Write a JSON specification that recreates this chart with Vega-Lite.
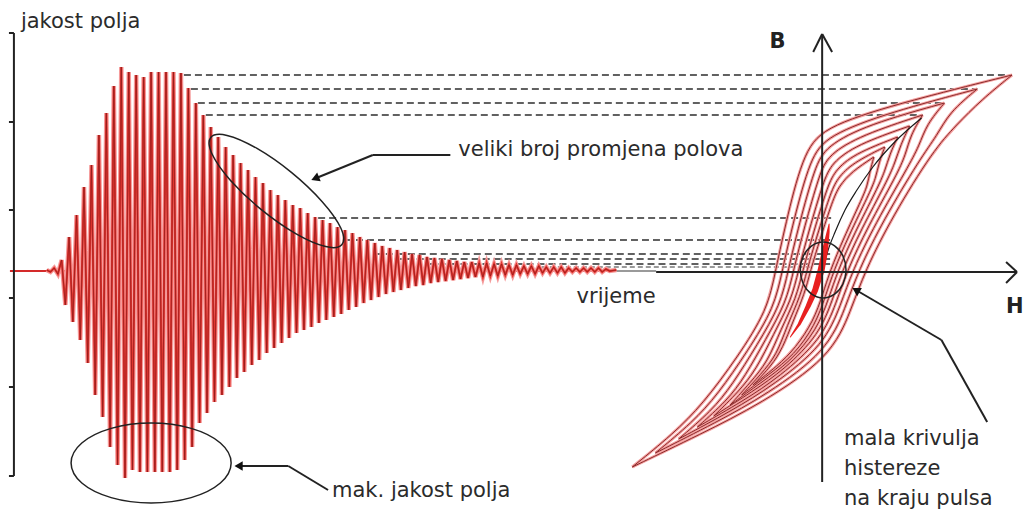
{
"$schema":"https://vega.github.io/schema/vega-lite/v6.json",
"width":1024,"height":513,
"autosize":{"type":"fit","contains":"padding"},
"padding":0,
"background":"white",
"config":{"view":{"stroke":null}},
"datasets":{
"sig":[
{"x":47,"y":270},{"x":50.75,"y":272},{"x":54.5,"y":268},{"x":58.25,"y":274},
{"x":62,"y":260},{"x":65.75,"y":305},{"x":69.5,"y":237},{"x":73.25,"y":322},
{"x":77,"y":215},{"x":80.75,"y":340},{"x":84.5,"y":187},{"x":88.25,"y":363},
{"x":92,"y":165},{"x":95.75,"y":395},{"x":99.5,"y":135},{"x":103.25,"y":417},
{"x":107,"y":113},{"x":110.75,"y":447},{"x":114.5,"y":86},{"x":118.25,"y":465},
{"x":122,"y":67},{"x":125.75,"y":478},{"x":129.5,"y":72},{"x":133.25,"y":470},
{"x":137,"y":75},{"x":140.75,"y":472},{"x":144.5,"y":77},{"x":148.25,"y":472},
{"x":152,"y":72},{"x":155.75,"y":472},{"x":159.5,"y":72},{"x":163.25,"y":472},
{"x":167,"y":72},{"x":170.75,"y":472},{"x":174.5,"y":72},{"x":178.25,"y":470},
{"x":182,"y":73},{"x":185.75,"y":460},{"x":189.5,"y":88},{"x":193.25,"y":447},
{"x":197,"y":103},{"x":200.75,"y":423},{"x":204.5,"y":115},{"x":208.25,"y":413},
{"x":212,"y":127},{"x":215.75,"y":402},{"x":219.5,"y":137},{"x":223.25,"y":395},
{"x":227,"y":147},{"x":230.75,"y":387},{"x":234.5,"y":155},{"x":238.25,"y":378},
{"x":242,"y":163},{"x":245.75,"y":372},{"x":249.5,"y":170},{"x":253.25,"y":365},
{"x":257,"y":177},{"x":260.75,"y":360},{"x":264.5,"y":183},{"x":268.25,"y":353},
{"x":272,"y":190},{"x":275.75,"y":348},{"x":279.5,"y":195},{"x":283.25,"y":343},
{"x":287,"y":200},{"x":290.75,"y":338},{"x":294.5,"y":205},{"x":298.25,"y":333},
{"x":302,"y":208},{"x":305.75,"y":330},{"x":309.5,"y":213},{"x":313.25,"y":327},
{"x":317,"y":217},{"x":320.75,"y":323},{"x":324.5,"y":220},{"x":328.25,"y":320},
{"x":332,"y":223},{"x":335.75,"y":317},{"x":339.5,"y":227},{"x":343.25,"y":314},
{"x":347,"y":230},{"x":350.75,"y":310},{"x":354.5,"y":233},{"x":358.25,"y":307},
{"x":362,"y":237},{"x":365.75,"y":303},{"x":369.5,"y":240},{"x":373.25,"y":300},
{"x":377,"y":243},{"x":380.75,"y":297},{"x":384.5,"y":246},{"x":388.25,"y":294},
{"x":392,"y":248},{"x":395.75,"y":292},{"x":399.5,"y":250},{"x":403.25,"y":290},
{"x":407,"y":252},{"x":410.75,"y":288},{"x":414.5,"y":254},{"x":418.25,"y":286},
{"x":422,"y":255},{"x":425.75,"y":285},{"x":429.5,"y":257},{"x":433.25,"y":283},
{"x":437,"y":258},{"x":440.75,"y":282},{"x":444.5,"y":259},{"x":448.25,"y":281},
{"x":452,"y":260},{"x":455.75,"y":280},{"x":459.5,"y":261},{"x":463.25,"y":279},
{"x":467,"y":262},{"x":470.75,"y":278},{"x":474.5,"y":262},{"x":478.25,"y":277},
{"x":482,"y":263},{"x":485.75,"y":277},{"x":489.5,"y":263},{"x":493.25,"y":276},
{"x":497,"y":264},{"x":500.75,"y":276},{"x":504.5,"y":264},{"x":508.25,"y":275},
{"x":512,"y":265},{"x":515.75,"y":275},{"x":519.5,"y":265},{"x":523.25,"y":274},
{"x":527,"y":266},{"x":530.75,"y":274},{"x":534.5,"y":266},{"x":538.25,"y":274},
{"x":542,"y":266},{"x":545.75,"y":273},{"x":549.5,"y":267},{"x":553.25,"y":273},
{"x":557,"y":267},{"x":560.75,"y":273},{"x":564.5,"y":267},{"x":568.25,"y":273},
{"x":572,"y":268},{"x":575.75,"y":272},{"x":579.5,"y":268},{"x":583.25,"y":272},
{"x":587,"y":268},{"x":590.75,"y":272},{"x":594.5,"y":268},{"x":598.25,"y":272},
{"x":602,"y":268},{"x":605.75,"y":272},{"x":609.5,"y":269},{"x":613.25,"y":271},
{"x":620,"y":270}
],
"loops":[
{"id":"1u","x":1018,"y":75},{"id":"1u","x":917,"y":100},{"id":"1u","x":832,"y":125},{"id":"1u","x":809,"y":150},{"id":"1u","x":792,"y":216},{"id":"1u","x":780,"y":271},{"id":"1u","x":772,"y":310},{"id":"1u","x":742,"y":357},{"id":"1u","x":707,"y":404},{"id":"1u","x":677,"y":434},{"id":"1u","x":636,"y":467},
{"id":"1l","x":636,"y":467},{"id":"1l","x":705,"y":434},{"id":"1l","x":765,"y":404},{"id":"1l","x":836,"y":357},{"id":"1l","x":856,"y":310},{"id":"1l","x":870,"y":271},{"id":"1l","x":898,"y":216},{"id":"1l","x":939,"y":150},{"id":"1l","x":962,"y":125},{"id":"1l","x":987,"y":100},{"id":"1l","x":1018,"y":75},
{"id":"2u","x":983,"y":89},{"id":"2u","x":895.4,"y":112.2},{"id":"2u","x":832.1,"y":135.4},{"id":"2u","x":814.9,"y":158.6},{"id":"2u","x":798.5,"y":219.9},{"id":"2u","x":786.7,"y":271},{"id":"2u","x":779.1,"y":307.2},{"id":"2u","x":752.2,"y":350.9},{"id":"2u","x":722,"y":394.5},{"id":"2u","x":696.5,"y":422.4},{"id":"2u","x":659.3,"y":453},
{"id":"2l","x":659.3,"y":453},{"id":"2l","x":720.3,"y":422.4},{"id":"2l","x":771.4,"y":394.5},{"id":"2l","x":832.2,"y":350.9},{"id":"2l","x":850.5,"y":307.2},{"id":"2l","x":863.3,"y":271},{"id":"2l","x":888.7,"y":219.9},{"id":"2l","x":925.5,"y":158.6},{"id":"2l","x":942.7,"y":135.4},{"id":"2l","x":955,"y":112.2},{"id":"2l","x":983,"y":89},
{"id":"3u","x":950,"y":103},{"id":"3u","x":873.1,"y":124.4},{"id":"3u","x":831,"y":145.9},{"id":"3u","x":819.6,"y":167.3},{"id":"3u","x":803.9,"y":223.9},{"id":"3u","x":792.6,"y":271},{"id":"3u","x":785.4,"y":304.4},{"id":"3u","x":761.7,"y":344.7},{"id":"3u","x":736.5,"y":385},{"id":"3u","x":715.9,"y":410.7},{"id":"3u","x":682.7,"y":439},
{"id":"3l","x":682.7,"y":439},{"id":"3l","x":736.1,"y":410.7},{"id":"3l","x":778.3,"y":385},{"id":"3l","x":829.3,"y":344.7},{"id":"3l","x":845.8,"y":304.4},{"id":"3l","x":857.4,"y":271},{"id":"3l","x":880.3,"y":223.9},{"id":"3l","x":913.2,"y":167.3},{"id":"3l","x":924.6,"y":145.9},{"id":"3l","x":932,"y":124.4},{"id":"3l","x":950,"y":103},
{"id":"4u","x":928,"y":115},{"id":"4u","x":866.9,"y":134.9},{"id":"4u","x":832.9,"y":154.8},{"id":"4u","x":824.2,"y":174.7},{"id":"4u","x":809.1,"y":227.2},{"id":"4u","x":798,"y":271},{"id":"4u","x":791,"y":302.1},{"id":"4u","x":770.1,"y":339.5},{"id":"4u","x":749.2,"y":376.9},{"id":"4u","x":731.3,"y":400.7},{"id":"4u","x":701.5,"y":427},
{"id":"4l","x":701.5,"y":427},{"id":"4l","x":748.1,"y":400.7},{"id":"4l","x":784,"y":376.9},{"id":"4l","x":826.5,"y":339.5},{"id":"4l","x":841.4,"y":302.1},{"id":"4l","x":852,"y":271},{"id":"4l","x":872.7,"y":227.2},{"id":"4l","x":902.2,"y":174.7},{"id":"4l","x":910.9,"y":154.8},{"id":"4l","x":916,"y":134.9},{"id":"4l","x":928,"y":115},
{"id":"5u","x":915,"y":126},{"id":"5u","x":861.9,"y":144.5},{"id":"5u","x":836.4,"y":163},{"id":"5u","x":828.3,"y":181.5},{"id":"5u","x":813.8,"y":230.3},{"id":"5u","x":802.9,"y":271},{"id":"5u","x":796.2,"y":299.9},{"id":"5u","x":777.9,"y":334.6},{"id":"5u","x":760.8,"y":369.4},{"id":"5u","x":743.1,"y":391.6},{"id":"5u","x":718,"y":416},
{"id":"5l","x":718,"y":416},{"id":"5l","x":756.9,"y":391.6},{"id":"5l","x":789.2,"y":369.4},{"id":"5l","x":823.9,"y":334.6},{"id":"5l","x":837.4,"y":299.9},{"id":"5l","x":847.1,"y":271},{"id":"5l","x":865.8,"y":230.3},{"id":"5l","x":892.1,"y":181.5},{"id":"5l","x":900.2,"y":163},{"id":"5l","x":906,"y":144.5},{"id":"5l","x":915,"y":126},
{"id":"6u","x":903,"y":137},{"id":"6u","x":858.5,"y":154.1},{"id":"6u","x":839.3,"y":171.2},{"id":"6u","x":831.8,"y":188.3},{"id":"6u","x":818,"y":233.4},{"id":"6u","x":807.4,"y":271},{"id":"6u","x":801.1,"y":297.7},{"id":"6u","x":785.2,"y":329.8},{"id":"6u","x":772.2,"y":361.9},{"id":"6u","x":754.8,"y":382.4},{"id":"6u","x":734.5,"y":405},
{"id":"6l","x":734.5,"y":405},{"id":"6l","x":765.8,"y":382.4},{"id":"6l","x":794.8,"y":361.9},{"id":"6l","x":821.8,"y":329.8},{"id":"6l","x":833.9,"y":297.7},{"id":"6l","x":842.6,"y":271},{"id":"6l","x":859.4,"y":233.4},{"id":"6l","x":882.6,"y":188.3},{"id":"6l","x":890.1,"y":171.2},{"id":"6l","x":895,"y":154.1},{"id":"6l","x":903,"y":137},
{"id":"7u","x":890,"y":147},{"id":"7u","x":857.9,"y":162.8},{"id":"7u","x":841.9,"y":178.6},{"id":"7u","x":835,"y":194.4},{"id":"7u","x":821.7,"y":236.2},{"id":"7u","x":811.5,"y":271},{"id":"7u","x":805.4,"y":295.7},{"id":"7u","x":791.7,"y":325.4},{"id":"7u","x":781.3,"y":355.1},{"id":"7u","x":765.5,"y":374.1},{"id":"7u","x":746.1,"y":395},
{"id":"7l","x":746.1,"y":395},{"id":"7l","x":773.9,"y":374.1},{"id":"7l","x":798.7,"y":355.1},{"id":"7l","x":819.9,"y":325.4},{"id":"7l","x":830.6,"y":295.7},{"id":"7l","x":838.5,"y":271},{"id":"7l","x":853.5,"y":236.2},{"id":"7l","x":874,"y":194.4},{"id":"7l","x":880.9,"y":178.6},{"id":"7l","x":884,"y":162.8},{"id":"7l","x":890,"y":147},
{"id":"8u","x":879,"y":157},{"id":"8u","x":856.9,"y":171.5},{"id":"8u","x":843.9,"y":186.1},{"id":"8u","x":837.5,"y":200.6},{"id":"8u","x":824.9,"y":239},{"id":"8u","x":815.1,"y":271},{"id":"8u","x":809.4,"y":293.7},{"id":"8u","x":797.8,"y":321},{"id":"8u","x":787.2,"y":348.3},{"id":"8u","x":776,"y":365.8},{"id":"8u","x":757.4,"y":385},
{"id":"8l","x":757.4,"y":385},{"id":"8l","x":782.2,"y":365.8},{"id":"8l","x":800,"y":348.3},{"id":"8l","x":818.4,"y":321},{"id":"8l","x":827.8,"y":293.7},{"id":"8l","x":834.9,"y":271},{"id":"8l","x":848.3,"y":239},{"id":"8l","x":866.1,"y":200.6},{"id":"8l","x":872.5,"y":186.1},{"id":"8l","x":875,"y":171.5},{"id":"8l","x":879,"y":157}
],
"dash":[
{"x":185,"x2":1018,"y":75},{"x":192,"x2":983,"y":89},{"x":199,"x2":950,"y":103},{"x":207,"x2":928,"y":115},
{"x":320,"x2":838,"y":218},{"x":347,"x2":835,"y":240},{"x":377,"x2":835,"y":254},{"x":397,"x2":835,"y":259},{"x":430,"x2":835,"y":264}
],
"segs":[
{"x":14,"x2":14,"y":33,"y2":476},
{"x":9,"x2":14,"y":33,"y2":33},{"x":9,"x2":14,"y":122,"y2":122},{"x":9,"x2":14,"y":210,"y2":210},{"x":9,"x2":14,"y":298,"y2":298},{"x":9,"x2":14,"y":387,"y2":387},{"x":9,"x2":14,"y":476,"y2":476},
{"x":827,"x2":827,"y":34,"y2":482},
{"x":818,"x2":827,"y":52,"y2":34},{"x":827,"x2":837,"y":34,"y2":52},
{"x":660,"x2":1023,"y":272,"y2":272},
{"x":1012,"x2":1023,"y":262,"y2":272},{"x":1012,"x2":1023,"y":283,"y2":272},
{"x":453,"x2":375,"y":155,"y2":155},{"x":375,"x2":317,"y":155,"y2":178.5},
{"x":330,"x2":290,"y":490,"y2":466},{"x":290,"x2":240,"y":466,"y2":466},
{"x":993,"x2":947,"y":422,"y2":340},{"x":947,"x2":861,"y":340,"y2":290}
],
"tticks":[
{"x":50},{"x":85},{"x":121},{"x":156},{"x":191},{"x":226},{"x":262},{"x":297},{"x":332},{"x":367},{"x":403},{"x":438},{"x":473},{"x":509},{"x":544},{"x":579},{"x":614}
],
"ell":[
{"id":"e1","o":0,"x":344,"y":244.5},{"id":"e1","o":1,"x":327.6,"y":246.6},{"id":"e1","o":2,"x":297.9,"y":233.9},{"id":"e1","o":3,"x":262.9,"y":209.6},{"id":"e1","o":4,"x":231.9,"y":180.4},{"id":"e1","o":5,"x":213.3,"y":154},{"id":"e1","o":6,"x":212,"y":137.5},{"id":"e1","o":7,"x":228.4,"y":135.4},{"id":"e1","o":8,"x":258.1,"y":148.2},{"id":"e1","o":9,"x":293.1,"y":172.4},{"id":"e1","o":10,"x":324.1,"y":201.7},{"id":"e1","o":11,"x":342.8,"y":228},
{"id":"e2","o":0,"x":232.5,"y":463},{"id":"e2","o":1,"x":221.7,"y":483},{"id":"e2","o":2,"x":192.3,"y":497.6},{"id":"e2","o":3,"x":152,"y":503},{"id":"e2","o":4,"x":111.8,"y":497.6},{"id":"e2","o":5,"x":82.3,"y":483},{"id":"e2","o":6,"x":71.5,"y":463},{"id":"e2","o":7,"x":82.3,"y":443},{"id":"e2","o":8,"x":111.8,"y":428.4},{"id":"e2","o":9,"x":152,"y":423},{"id":"e2","o":10,"x":192.3,"y":428.4},{"id":"e2","o":11,"x":221.7,"y":443},
{"id":"e3","o":0,"x":851,"y":270},{"id":"e3","o":1,"x":847.9,"y":284},{"id":"e3","o":2,"x":839.5,"y":294.2},{"id":"e3","o":3,"x":828,"y":298},{"id":"e3","o":4,"x":816.5,"y":294.2},{"id":"e3","o":5,"x":808.1,"y":284},{"id":"e3","o":6,"x":805,"y":270},{"id":"e3","o":7,"x":808.1,"y":256},{"id":"e3","o":8,"x":816.5,"y":245.8},{"id":"e3","o":9,"x":828,"y":242},{"id":"e3","o":10,"x":839.5,"y":245.8},{"id":"e3","o":11,"x":847.9,"y":256}
],
"mag":[
{"x":827,"y":271},{"x":833,"y":250},{"x":840,"y":232},{"x":850,"y":210},{"x":862,"y":190},{"x":878,"y":167},{"x":900,"y":142},{"x":927,"y":118}
],
"small":[
{"x":795,"y":337,"w":1},{"x":804,"y":324,"w":3},{"x":813,"y":306,"w":5},{"x":820,"y":290,"w":6},{"x":826,"y":270,"w":7},{"x":830,"y":250,"w":6},{"x":833,"y":232,"w":3},{"x":834,"y":224,"w":1}
],
"txt":[
{"t":"jakost polja","x":21,"y":28},
{"t":"veliki broj promjena polova","x":461,"y":156},
{"t":"vrijeme","x":580,"y":303},
{"t":"mak. jakost polja","x":334,"y":497},
{"t":"mala krivulja","x":849,"y":445},
{"t":"histereze","x":849,"y":475},
{"t":"na kraju pulsa","x":849,"y":505}
],
"btxt":[
{"t":"B","x":774,"y":48},
{"t":"H","x":1012,"y":313}
]
},
"encoding":{
"x":{"field":"x","type":"quantitative","scale":{"domain":[0,1024],"nice":false,"zero":false},"axis":null},
"y":{"field":"y","type":"quantitative","scale":{"domain":[0,513],"reverse":true,"nice":false,"zero":false},"axis":null}
},
"layer":[
{"data":{"name":"dash"},"mark":{"type":"rule","strokeDash":[7,4],"color":"#2e2e2e","strokeWidth":1.6},"encoding":{"x2":{"field":"x2"}}},
{"data":{"values":[{"x":545,"x2":815,"y":267}]},"mark":{"type":"rule","strokeDash":[5,3],"color":"#9a9a9a","strokeWidth":2},"encoding":{"x2":{"field":"x2"}}},
{"data":{"values":[{"x":10,"x2":620,"y":271}]},"mark":{"type":"rule","color":"#d42a2a","strokeWidth":2},"encoding":{"x2":{"field":"x2"}}},
{"data":{"values":[{"x":620,"x2":660,"y":271}]},"mark":{"type":"rule","color":"#9a9a9a","strokeWidth":2},"encoding":{"x2":{"field":"x2"}}},
{"data":{"name":"sig"},"mark":{"type":"line","color":"#f59a9a","strokeWidth":4.5},"encoding":{}},
{"data":{"name":"sig"},"mark":{"type":"line","color":"#e2352f","strokeWidth":2.2},"encoding":{}},
{"data":{"name":"sig"},"mark":{"type":"line","color":"#8e1a1a","strokeWidth":0.7},"encoding":{}},
{"data":{"name":"tticks"},"mark":{"type":"rule","color":"#333333","strokeWidth":1.2},"encoding":{"y":{"datum":272},"y2":{"datum":277}}},
{"data":{"name":"loops"},"mark":{"type":"line","interpolate":"basis","color":"#f4a0a0","strokeWidth":3},"encoding":{"detail":{"field":"id"}}},
{"data":{"name":"loops"},"mark":{"type":"line","interpolate":"basis","color":"#8a2a2a","strokeWidth":1},"encoding":{"detail":{"field":"id"}}},
{"data":{"name":"mag"},"mark":{"type":"line","interpolate":"monotone","color":"#1a1a1a","strokeWidth":1.2},"encoding":{}},
{"data":{"name":"small"},"mark":{"type":"trail","color":"#e82020"},"encoding":{"size":{"field":"w","type":"quantitative","scale":{"domain":[0,10],"range":[0,10]},"legend":null}}},
{"data":{"name":"segs"},"mark":{"type":"rule","color":"#222222","strokeWidth":2},"encoding":{"x2":{"field":"x2"},"y2":{"field":"y2"}}},
{"data":{"name":"ell"},"mark":{"type":"line","interpolate":"cardinal-closed","color":"#222222","strokeWidth":1.5},"encoding":{"detail":{"field":"id"},"order":{"field":"o","type":"quantitative"}}},
{"data":{"values":[{"x":317,"y":178.5}]},"mark":{"type":"point","shape":"triangle-up","filled":true,"color":"#111111","size":90,"angle":248,"opacity":1},"encoding":{}},
{"data":{"values":[{"x":240,"y":466}]},"mark":{"type":"point","shape":"triangle-up","filled":true,"color":"#111111","size":90,"angle":270,"opacity":1},"encoding":{}},
{"data":{"values":[{"x":861,"y":290}]},"mark":{"type":"point","shape":"triangle-up","filled":true,"color":"#111111","size":90,"angle":300,"opacity":1},"encoding":{}},
{"data":{"name":"txt"},"mark":{"type":"text","align":"left","baseline":"alphabetic","font":"DejaVu Sans","fontSize":21,"color":"#2b2b2b"},"encoding":{"text":{"field":"t"}}},
{"data":{"name":"btxt"},"mark":{"type":"text","align":"left","baseline":"alphabetic","font":"DejaVu Sans","fontSize":21,"fontWeight":"bold","color":"#222222"},"encoding":{"text":{"field":"t"}}}
]
}
